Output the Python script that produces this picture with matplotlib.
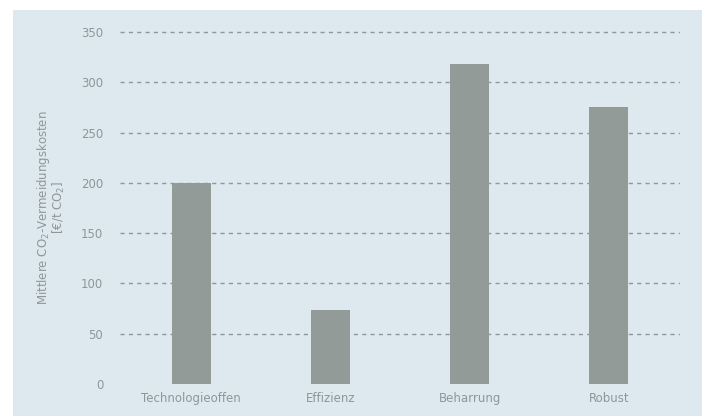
import matplotlib; matplotlib.use("Agg")
import matplotlib.pyplot as plt
from matplotlib.patches import Rectangle

categories = ["Technologieoffen", "Effizienz", "Beharrung", "Robust"]
values = [200, 74, 318, 275]
yticks = [0, 50, 100, 150, 200, 250, 300, 350]

bg = "#dde9ef"
txt = "#8f9699"

fig = plt.figure(figsize=(7.02, 4.16), dpi=100)
fig.patches.append(Rectangle((13/702, 0), 1, 1 - 10/416, transform=fig.transFigure,
                             facecolor=bg, edgecolor="none", zorder=-10))
ax = fig.add_axes([120/702, 1 - 384/416, 560/702, 353/416])
ax.set_facecolor("none")

for y in yticks[1:]:
    ax.axhline(y, color="#90979a", lw=1.0, ls=(0, (3, 3)), zorder=1)
x = range(len(categories))
ax.bar(x, values, width=0.28, color="#939b98", zorder=2)

ax.set_xlim(-0.51, 3.51)
ax.set_ylim(0, 351)
ax.set_yticks(yticks)
ax.set_xticks(list(x))
ax.set_xticklabels(categories)
ax.tick_params(length=0, colors=txt, labelsize=8.5)
ax.tick_params(axis="y", pad=12)
ax.tick_params(axis="x", pad=6)
for s in ax.spines.values():
    s.set_visible(False)
ax.set_ylabel("Mittlere CO$_2$-Vermeidungskosten\n[€/t CO$_2$]", color=txt, fontsize=8.5,
              linespacing=0.95, labelpad=10)

fig.savefig("out.png", dpi=100)
